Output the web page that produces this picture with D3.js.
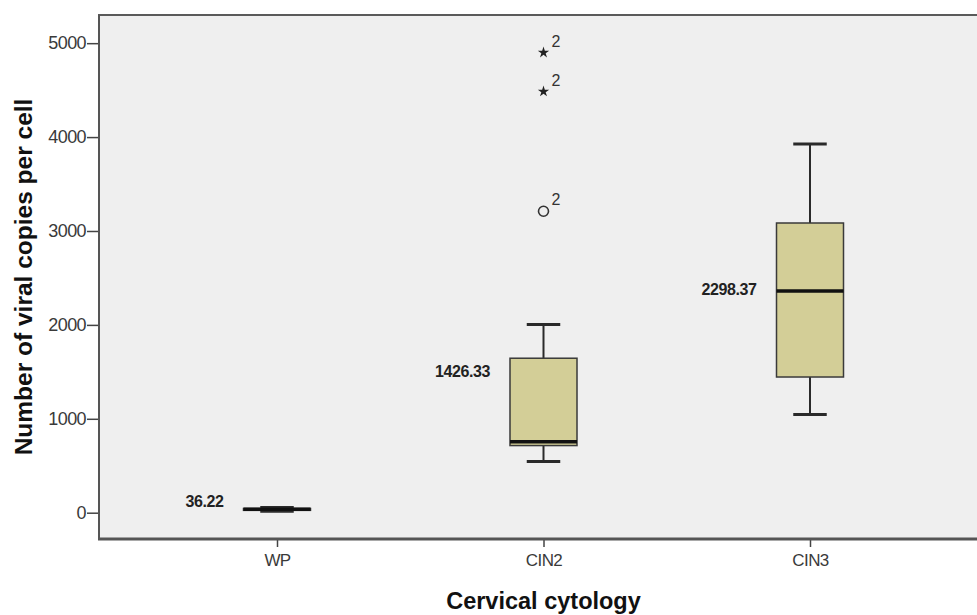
<!DOCTYPE html>
<html>
<head>
<meta charset="utf-8">
<script src="https://cdn.jsdelivr.net/npm/d3@7"></script>
<style>
	body { margin: 0; background: #fff; }
	svg { display: block; font-family: Arial, "Liberation Sans", sans-serif; }
</style>
</head>
<body>
<div id="chart"></div>
<script>
// groups and five-number summaries
const categories = ["WP", "CIN2", "CIN3"];
const whiskerLow = [15, 545, 1045];
const q1 = [25, 715, 1445];
const median = [36, 755, 2360];
const q3 = [45, 1645, 3085];
const whiskerHigh = [55, 2005, 3925];
const medianLabels = ["36.22", "1426.33", "2298.37"];
const labelValues = [36.22, 1426.33, 2298.37];

// extreme values in CIN2
const outlierCat = ["CIN2", "CIN2", "CIN2"];
const outlierValue = [4900, 4485, 3210];
const outlierKind = ["star", "star", "circle"];
const outlierLabel = ["2", "2", "2"];

const yTicks = [0, 1000, 2000, 3000, 4000, 5000];

let width = 977, height = 615;
let plotLeft = 99, plotRight = 980, plotTop = 15, plotBottom = 539;
let boxWidth = 67;

const svg = d3.select("#chart").append("svg")
	.attr("width", width)
	.attr("height", height);

const x = d3.scalePoint()
	.domain(categories)
	.range([277, 810]);

const y = d3.scaleLinear()
	.domain([-280, 5300])
	.range([plotBottom, plotTop]);

// panel
svg.append("rect")
	.attr("x", plotLeft)
	.attr("y", plotTop)
	.attr("width", plotRight - plotLeft)
	.attr("height", plotBottom - plotTop)
	.attr("fill", "#efefef")
	.attr("stroke", "#5a5a5a")
	.attr("stroke-width", 2);

// y axis
const yAxis = svg.append("g")
	.attr("transform", `translate(${plotLeft},0)`)
	.call(d3.axisLeft(y).tickValues(yTicks).tickFormat(d3.format("d")).tickSize(12).tickSizeOuter(0).tickPadding(1));
yAxis.select(".domain").remove();
yAxis.selectAll("line").attr("stroke", "#444").attr("stroke-width", 1.5);
yAxis.selectAll("text")
	.attr("fill", "#3a3a3a")
	.style("font-size", "18px")
	.style("letter-spacing", "-0.6px");

// x axis
const xAxis = svg.append("g")
	.attr("transform", `translate(0,${plotBottom})`)
	.call(d3.axisBottom(x).tickSize(8).tickSizeOuter(0).tickPadding(7));
xAxis.select(".domain").remove();
xAxis.selectAll("line").attr("stroke", "#444").attr("stroke-width", 1.5);
xAxis.selectAll("text")
	.attr("fill", "#3a3a3a")
	.style("font-size", "17px")
	.style("letter-spacing", "-0.6px");

svg.append("line")
	.attr("x1", plotLeft - 1).attr("x2", plotRight)
	.attr("y1", plotBottom).attr("y2", plotBottom)
	.attr("stroke", "#555").attr("stroke-width", 3);
svg.append("line")
	.attr("x1", plotLeft).attr("x2", plotLeft)
	.attr("y1", plotTop).attr("y2", plotBottom)
	.attr("stroke", "#555").attr("stroke-width", 2);

// axis titles
svg.append("text")
	.attr("x", x("CIN2"))
	.attr("y", 609)
	.attr("text-anchor", "middle")
	.style("font-size", "23.5px")
	.style("font-weight", "bold")
	.attr("fill", "#111")
	.text("Cervical cytology");

svg.append("text")
	.attr("transform", `translate(32,${(plotTop + plotBottom) / 2}) rotate(-90)`)
	.attr("text-anchor", "middle")
	.style("font-size", "24.5px")
	.style("font-weight", "bold")
	.attr("fill", "#111")
	.text("Number of viral copies per cell");

// boxes
const boxes = categories.map((c, i) => ({
	cat: c, lo: whiskerLow[i], q1: q1[i], med: median[i], q3: q3[i], hi: whiskerHigh[i],
	label: medianLabels[i], labelValue: labelValues[i]
}));

const g = svg.selectAll("g.box")
	.data(boxes)
	.enter().append("g")
	.attr("class", "box");

g.append("line")
	.attr("x1", d => x(d.cat)).attr("x2", d => x(d.cat))
	.attr("y1", d => y(d.hi)).attr("y2", d => y(d.q3))
	.attr("stroke", "#2a2a2a").attr("stroke-width", 2);
g.append("line")
	.attr("x1", d => x(d.cat)).attr("x2", d => x(d.cat))
	.attr("y1", d => y(d.q1)).attr("y2", d => y(d.lo))
	.attr("stroke", "#2a2a2a").attr("stroke-width", 2);

g.append("line")
	.attr("x1", d => x(d.cat) - boxWidth / 4).attr("x2", d => x(d.cat) + boxWidth / 4)
	.attr("y1", d => y(d.hi)).attr("y2", d => y(d.hi))
	.attr("stroke", "#2a2a2a").attr("stroke-width", 3);
g.append("line")
	.attr("x1", d => x(d.cat) - boxWidth / 4).attr("x2", d => x(d.cat) + boxWidth / 4)
	.attr("y1", d => y(d.lo)).attr("y2", d => y(d.lo))
	.attr("stroke", "#2a2a2a").attr("stroke-width", 3);

g.append("rect")
	.attr("x", d => x(d.cat) - boxWidth / 2)
	.attr("width", boxWidth)
	.attr("y", d => y(d.q3))
	.attr("height", d => y(d.q1) - y(d.q3))
	.attr("fill", "#d3ce97")
	.attr("stroke", "#3a3a3a")
	.attr("stroke-width", 1.5);

g.append("line")
	.attr("x1", d => x(d.cat) - boxWidth / 2).attr("x2", d => x(d.cat) + boxWidth / 2)
	.attr("y1", d => y(d.med)).attr("y2", d => y(d.med))
	.attr("stroke", "#111").attr("stroke-width", 3.5);

g.append("text")
	.attr("x", d => x(d.cat) - boxWidth / 2 - 20)
	.attr("y", d => y(d.labelValue) - 2)
	.attr("text-anchor", "end")
	.style("font-size", "16px")
	.style("font-weight", "bold")
	.style("letter-spacing", "-0.4px")
	.attr("fill", "#222")
	.text(d => d.label);

// outliers
const outliers = outlierValue.map((v, i) => ({
	cat: outlierCat[i], v, kind: outlierKind[i], label: outlierLabel[i]
}));

const og = svg.selectAll("g.outlier")
	.data(outliers)
	.enter().append("g")
	.attr("class", "outlier")
	.attr("transform", d => `translate(${x(d.cat)},${y(d.v)})`);

og.filter(d => d.kind === "circle").append("circle")
	.attr("r", 5)
	.attr("fill", "none")
	.attr("stroke", "#333")
	.attr("stroke-width", 1.6);

og.filter(d => d.kind === "star").append("path")
	.attr("d", d3.symbol().type(d3.symbolStar).size(40))
	.attr("fill", "#222");

og.append("text")
	.attr("x", 8)
	.attr("y", -6)
	.style("font-size", "16px")
	.attr("fill", "#333")
	.text(d => d.label);
</script>
</body>
</html>
